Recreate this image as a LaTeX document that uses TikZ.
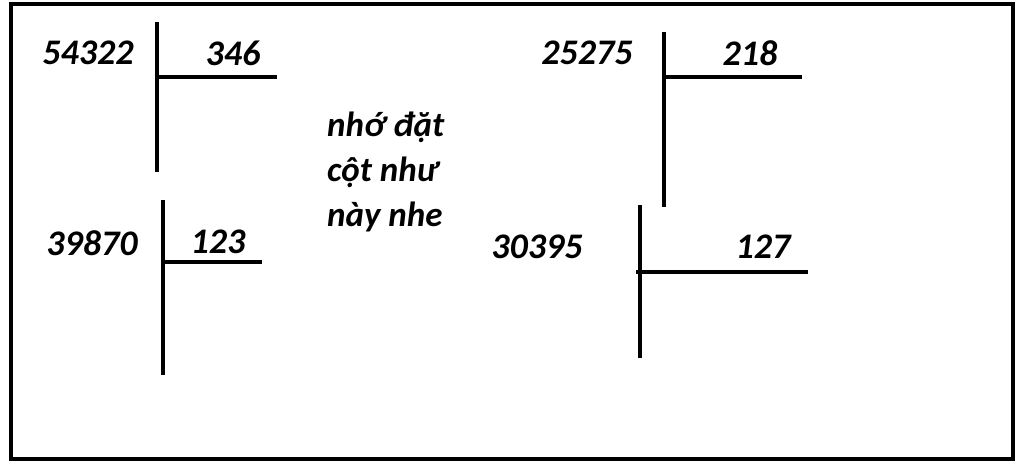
\documentclass[tikz,border=0pt]{standalone}
\usepackage{fontspec}
\setmainfont{Carlito}
\begin{document}
\begin{tikzpicture}[x=1pt,y=-1pt,
  ln/.style={line width=3.5pt,black},
  num/.style={font=\fontsize{36}{40}\selectfont\bfseries\itshape,inner sep=0pt,anchor=center},
  note/.style={font=\fontsize{35}{45}\selectfont\bfseries\itshape,inner sep=0pt,anchor=north west,align=left}]
\fill[white] (0,0) rectangle (1024,473);
\useasboundingbox (0,0) rectangle (1024,473);
\draw[line width=4pt] (11,4) rectangle (1013,459);
% 1
\node[num] (a1) at (88,53) {54322};
\node[num] (b1) at (233,53) {346};
\coordinate (v1t) at (157,22); \coordinate (v1b) at (157,172);
\coordinate (h1l) at (157,77); \coordinate (h1r) at (277,77);
\draw[ln] (v1t) -- (v1b); \draw[ln] (h1l) -- (h1r);
% 2
\node[num] (a2) at (92,243) {39870};
\node[num] (b2) at (218,242) {123};
\coordinate (v2t) at (163,200); \coordinate (v2b) at (163,375);
\coordinate (h2l) at (163,262); \coordinate (h2r) at (262,262);
\draw[ln] (v2t) -- (v2b); \draw[ln] (h2l) -- (h2r);
% note
\node[note] (n) at (327,112) {nhớ đặt\\cột như\\này nhe};
% 3
\node[num] (a3) at (587,53) {25275};
\node[num] (b3) at (750,53) {218};
\coordinate (v3t) at (664,32); \coordinate (v3b) at (664,207);
\coordinate (h3l) at (664,77); \coordinate (h3r) at (802,77);
\draw[ln] (v3t) -- (v3b); \draw[ln] (h3l) -- (h3r);
% 4
\node[num] (a4) at (537,247) {30395};
\node[num] (b4) at (763,247) {127};
\coordinate (v4t) at (640,205); \coordinate (v4b) at (640,358);
\coordinate (h4l) at (636,272); \coordinate (h4r) at (808,272);
\draw[ln] (v4t) -- (v4b); \draw[ln] (h4l) -- (h4r);
\end{tikzpicture}
\end{document}
